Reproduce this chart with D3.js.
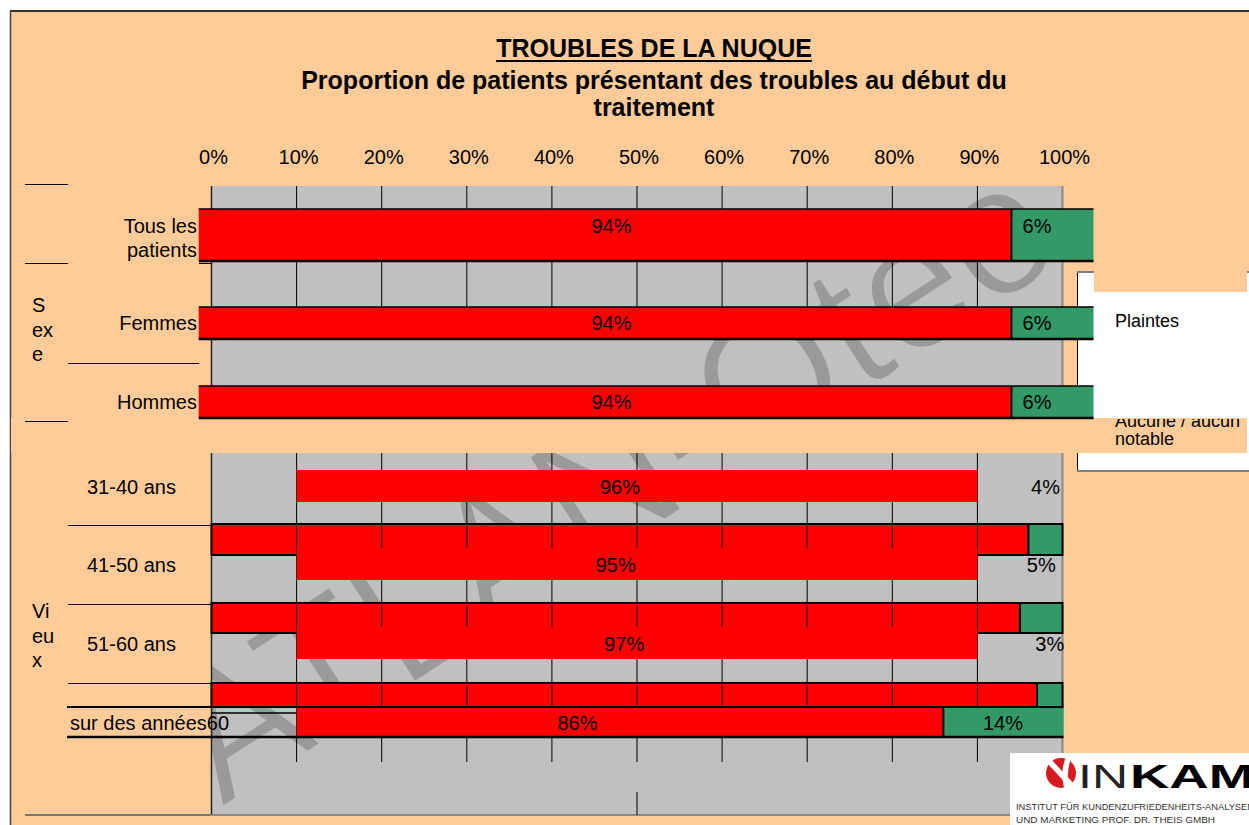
<!DOCTYPE html>
<html><head><meta charset="utf-8">
<script src="https://cdn.jsdelivr.net/npm/d3@7"></script>
<style>
body{margin:0;background:#fff}
svg{display:block}
text{font-family:"Liberation Sans",Arial,sans-serif}
</style>
</head><body>
<svg id="c" width="1249" height="825"></svg>
<script>
// ---------- DATA ----------
const categories = ["Tous les patients","Femmes","Hommes","31-40 ans","41-50 ans","51-60 ans","sur des années60"];
const plaintes = [94,94,94,96,95,97,86];
const aucune   = [6,6,6,4,5,3,14];
const groupNames = ["Sexe","Vieux"];
const groupLines = [["S","ex","e"],["Vi","eu","x"]];
const tickValues = [0,10,20,30,40,50,60,70,80,90,100];
const legendLabels = ["Plaintes","Aucune / aucun notable"];
const titleText = "TROUBLES DE LA NUQUE";
const subtitleLines = ["Proportion de patients présentant des troubles au début du","traitement"];
const watermarkText = "ATLAN-Oteo";

// ---------- LAYOUT / STYLE ----------
const C = {peach:"#FFCC99", gray:"#C0C0C0", red:"#FF0000", green:"#339966", wm:"#9A9A9A"};
const svg = d3.select("#c");
const x = d3.scaleLinear().domain([0,100]).range([211.5,1062.5]);
const rowLayout = [
  {lab:[233,257], anchor:"end", lx:197, top:209, h:52},
  {lab:[330], anchor:"end", lx:197, top:307, h:32},
  {lab:[409], anchor:"end", lx:197, top:386, h:32},
  {lab:[494], anchor:"start", lx:87, top:470, h:32},
  {lab:[572], anchor:"start", lx:87, top:548, h:32},
  {lab:[651], anchor:"start", lx:87, top:627, h:32},
  {lab:[730], anchor:"start", lx:70, top:707, h:30}
];
const outlinedBands = [{top:524,h:31},{top:603,h:30},{top:683,h:24}];
const secA = {y0:186, y1:418}, secB = {y0:453, y1:815};
const fmt = v => v + "%";

// background
svg.append("rect").attr("width",1249).attr("height",825).attr("fill","#fff");
svg.append("rect").attr("x",10).attr("y",11).attr("width",1239).attr("height",814).attr("fill",C.peach);
svg.append("line").attr("x1",10).attr("x2",1249).attr("y1",11).attr("y2",11).attr("stroke","#333").attr("stroke-width",2);
svg.append("line").attr("x1",10.5).attr("x2",10.5).attr("y1",11).attr("y2",825).attr("stroke","#444").attr("stroke-width",1.5);

// title
const t1 = svg.append("text").attr("x",654).attr("y",57).attr("text-anchor","middle")
  .attr("font-size",25).attr("font-weight","bold").text(titleText);
const tw = t1.node().getComputedTextLength();
svg.append("line").attr("x1",654-tw/2).attr("x2",654+tw/2).attr("y1",61).attr("y2",61).attr("stroke","#000").attr("stroke-width",2);
subtitleLines.forEach((s,i)=>{
  svg.append("text").attr("x",654).attr("y",89+i*27).attr("text-anchor","middle")
    .attr("font-size",25).attr("font-weight","bold").text(s);
});

// tick labels
svg.append("g").selectAll("text").data(tickValues).join("text")
  .attr("x",d=>x(d)+2).attr("y",164).attr("text-anchor","middle").attr("font-size",20).text(fmt);

// gray sections
[secA,secB].forEach(s=>{
  svg.append("rect").attr("x",x(0)).attr("y",s.y0).attr("width",x(100)-x(0)).attr("height",s.y1-s.y0).attr("fill",C.gray);
});

// watermark clipped to gray sections (glyphs slightly thinned by a background-coloured stroke)
const defs = svg.append("defs");
const cp = defs.append("clipPath").attr("id","grayclip");
[secA,secB].forEach(s=>cp.append("rect").attr("x",x(0)).attr("y",s.y0).attr("width",x(100)-x(0)).attr("height",s.y1-s.y0));
svg.append("g").attr("clip-path","url(#grayclip)")
  .append("text").attr("transform","translate(222,808) rotate(-33)")
  .attr("font-size",185).attr("fill",C.wm).attr("stroke",C.gray).attr("stroke-width",3)
  .attr("textLength",1010).attr("lengthAdjust","spacingAndGlyphs")
  .text(watermarkText);

// legend box
svg.append("rect").attr("x",1077.5).attr("y",272).attr("width",180).attr("height",199).attr("fill","#fff");
svg.append("line").attr("x1",1077.5).attr("x2",1077.5).attr("y1",272).attr("y2",471).attr("stroke","#000").attr("stroke-width",1);
svg.append("line").attr("x1",1077).attr("x2",1249).attr("y1",272).attr("y2",272).attr("stroke","#808080").attr("stroke-width",2);
svg.append("line").attr("x1",1077).attr("x2",1249).attr("y1",471).attr("y2",471).attr("stroke","#808080").attr("stroke-width",2);
svg.append("text").attr("x",1115).attr("y",327).attr("font-size",18).text(legendLabels[0]);

// peach strip between sections
svg.append("rect").attr("x",11).attr("y",secA.y1).attr("width",1236).attr("height",secB.y0-secA.y1).attr("fill",C.peach);
defs.append("clipPath").attr("id","legclip").append("rect").attr("x",1080).attr("y",419).attr("width",170).attr("height",60);
const legWords = legendLabels[1].split(" ");
const lg = svg.append("g").attr("clip-path","url(#legclip)");
lg.append("text").attr("x",1115).attr("y",427).attr("font-size",18).text(legWords.slice(0,3).join(" "));
lg.append("text").attr("x",1115).attr("y",445).attr("font-size",18).text(legWords.slice(3).join(" "));
svg.append("rect").attr("x",1094).attr("y",180).attr("width",153).attr("height",112).attr("fill",C.peach);

// borders of gray sections
[secA,secB].forEach(s=>{
  svg.append("line").attr("x1",x(100)).attr("x2",x(100)).attr("y1",s.y0).attr("y2",s.y1).attr("stroke","#888").attr("stroke-width",2);
  svg.append("line").attr("x1",x(0)).attr("x2",x(0)).attr("y1",s.y0).attr("y2",s.y1).attr("stroke","#222").attr("stroke-width",1.5);
});
svg.append("line").attr("x1",x(0)).attr("x2",x(100)+1).attr("y1",secB.y1).attr("y2",secB.y1).attr("stroke","#888").attr("stroke-width",2);

const inner = tickValues.filter(t=>t>0 && t<100);
[[secA.y0,rowLayout[0].top],[rowLayout[0].top+rowLayout[0].h,rowLayout[1].top]].forEach(([a,b])=>{
  svg.append("g").selectAll("line").data(inner).join("line")
    .attr("x1",d=>x(d)).attr("x2",d=>x(d)).attr("y1",a).attr("y2",b).attr("stroke","#000").attr("stroke-width",1);
});

// section A bars
const rowStart = x(-1.5), greenOver = 31;
[0,1,2].forEach(i=>{
  const r = rowLayout[i], v = plaintes[i], a = aucune[i];
  const g = svg.append("g");
  g.append("rect").attr("x",rowStart).attr("y",r.top).attr("width",x(v)-rowStart).attr("height",r.h).attr("fill",C.red);
  g.append("rect").attr("x",x(v)).attr("y",r.top).attr("width",x(v+a)-x(v)+greenOver).attr("height",r.h).attr("fill",C.green);
  g.append("line").attr("x1",rowStart).attr("x2",x(100)+greenOver).attr("y1",r.top).attr("y2",r.top).attr("stroke","#000").attr("stroke-width",1.5);
  g.append("line").attr("x1",rowStart).attr("x2",x(100)+greenOver).attr("y1",r.top+r.h).attr("y2",r.top+r.h).attr("stroke","#000").attr("stroke-width",2.5);
  g.append("line").attr("x1",x(v)).attr("x2",x(v)).attr("y1",r.top).attr("y2",r.top+r.h).attr("stroke","#000").attr("stroke-width",2);
  const by = r.lab[0];
  g.append("text").attr("x",x(v/2)).attr("y",by).attr("text-anchor","middle").attr("font-size",20).text(fmt(v));
  g.append("text").attr("x",x(v+a/2)).attr("y",by).attr("text-anchor","middle").attr("font-size",20).text(fmt(a));
});

// section B outlined stacked bars
[3,4,5].forEach((i,k)=>{
  const b = outlinedBands[k], v = plaintes[i];
  svg.append("rect").attr("x",x(0)).attr("y",b.top).attr("width",x(v)-x(0)).attr("height",b.h).attr("fill",C.red).attr("stroke","#000").attr("stroke-width",2);
  svg.append("rect").attr("x",x(v)).attr("y",b.top).attr("width",x(100)-x(v)).attr("height",b.h).attr("fill",C.green).attr("stroke","#000").attr("stroke-width",2);
});

// section B gridlines
svg.append("g").selectAll("line").data(inner).join("line")
  .attr("x1",d=>x(d)).attr("x2",d=>x(d)).attr("y1",secB.y0).attr("y2",762).attr("stroke","#000").attr("stroke-width",1);
svg.append("line").attr("x1",x(50)).attr("x2",x(50)).attr("y1",792).attr("y2",secB.y1).attr("stroke","#000").attr("stroke-width",1);

// section B label bars
[3,4,5].forEach(i=>{
  const r = rowLayout[i];
  svg.append("rect").attr("x",x(10)).attr("y",r.top).attr("width",x(90)-x(10)).attr("height",r.h).attr("fill",C.red);
});
{
  const r = rowLayout[6], v = plaintes[6], a = aucune[6];
  svg.append("rect").attr("x",x(10)).attr("y",r.top).attr("width",x(v)-x(10)).attr("height",r.h).attr("fill",C.red);
  svg.append("rect").attr("x",x(v)).attr("y",r.top).attr("width",x(v+a)-x(v)+1).attr("height",r.h).attr("fill",C.green);
  svg.append("line").attr("x1",x(v)).attr("x2",x(v)).attr("y1",r.top).attr("y2",r.top+r.h).attr("stroke","#000").attr("stroke-width",2);
  svg.append("line").attr("x1",67).attr("x2",x(100)+1).attr("y1",r.top).attr("y2",r.top).attr("stroke","#000").attr("stroke-width",2);
  svg.append("line").attr("x1",67).attr("x2",x(100)+1).attr("y1",r.top+r.h).attr("y2",r.top+r.h).attr("stroke","#000").attr("stroke-width",2.5);
  svg.append("line").attr("x1",x(0)).attr("x2",x(10)).attr("y1",r.top+6).attr("y2",r.top+6).attr("stroke","#000").attr("stroke-width",1.5);
}
[3,4,5,6].forEach(i=>{
  const r = rowLayout[i], v = plaintes[i], a = aucune[i];
  svg.append("text").attr("x",x(v/2)).attr("y",r.lab[0]).attr("text-anchor","middle").attr("font-size",20).text(fmt(v));
  svg.append("text").attr("x",x(v+a/2)).attr("y",r.lab[0]).attr("text-anchor","middle").attr("font-size",20).text(fmt(a));
});

// category labels
categories.forEach((c,i)=>{
  const r = rowLayout[i];
  const lines = i===0 ? ["Tous les","patients"] : [c];
  lines.forEach((l,j)=>{
    svg.append("text").attr("x",r.lx).attr("y",r.lab[j]).attr("text-anchor",r.anchor).attr("font-size",20).text(l);
  });
});

// group labels
const groupBase = [312,618];
groupLines.forEach((ls,g)=>{
  ls.forEach((l,j)=>svg.append("text").attr("x",32).attr("y",groupBase[g]+j*24.5).attr("font-size",20).text(l));
});

// left separator lines
const sep = (x1,x2,y,w,col)=>svg.append("line").attr("x1",x1).attr("x2",x2).attr("y1",y).attr("y2",y).attr("stroke",col||"#000").attr("stroke-width",w||1);
sep(25,68,184.5); sep(25,68,263.5); sep(25,68,421.5);
sep(68,199,363.5); sep(199,212,263.5);
sep(68,213,525.5); sep(68,213,604.5); sep(68,213,683.5);
sep(25,211,815,2,"#777");

// logo
const logo = svg.append("g");
logo.append("rect").attr("x",1010).attr("y",753).attr("width",239).attr("height",72).attr("fill","#fff");
logo.append("circle").attr("cx",1061).attr("cy",773).attr("r",15).attr("fill","#D71920");
logo.append("path").attr("d","M1049,757 Q1062,771 1078,788 L1072,790 Q1060,777 1046,762 Z").attr("fill","#fff");
logo.append("path").attr("d","M1066,757 Q1060,770 1064,788 L1069,788 Q1066,772 1071,758 Z").attr("fill","#fff");
logo.append("text").attr("x",1078).attr("y",788).attr("font-size",34).attr("fill","#222")
  .attr("textLength",50).attr("lengthAdjust","spacingAndGlyphs").text("IN");
logo.append("text").attr("x",1130).attr("y",788).attr("font-size",34).attr("font-weight","bold").attr("fill","#000")
  .attr("textLength",124).attr("lengthAdjust","spacingAndGlyphs").text("KAM");
logo.append("text").attr("x",1016).attr("y",810).attr("font-size",9.5).attr("fill","#333")
  .attr("textLength",238).attr("lengthAdjust","spacingAndGlyphs").text("INSTITUT FÜR KUNDENZUFRIEDENHEITS-ANALYSEN");
logo.append("text").attr("x",1016).attr("y",823).attr("font-size",9.5).attr("fill","#333")
  .attr("textLength",199).attr("lengthAdjust","spacingAndGlyphs").text("UND MARKETING PROF. DR. THEIS GMBH");
</script>
</body></html>
